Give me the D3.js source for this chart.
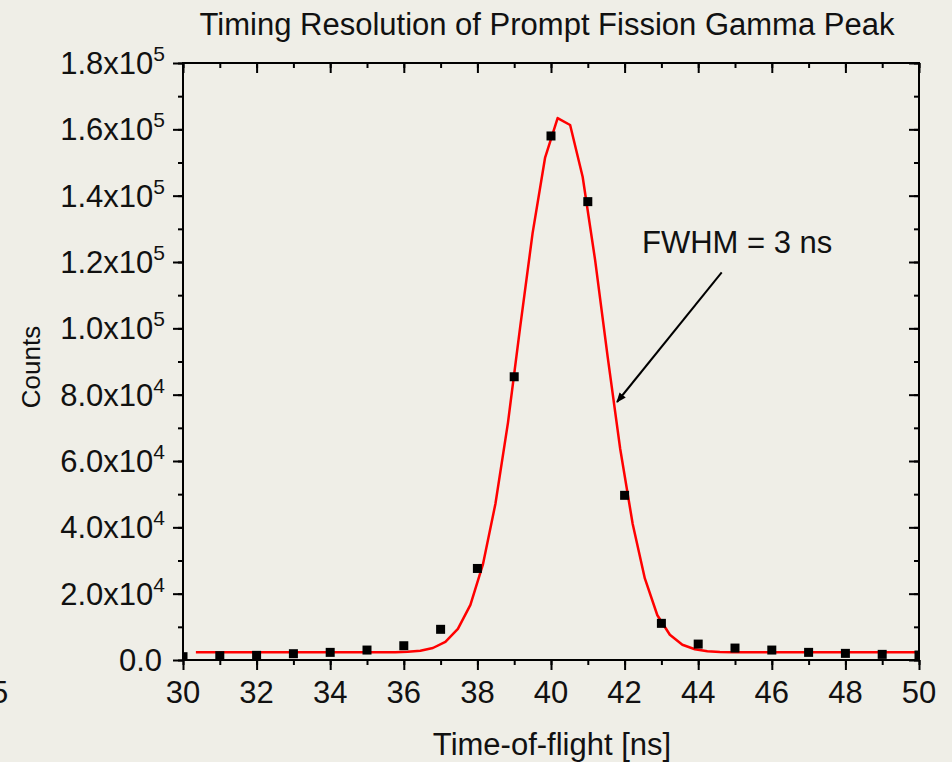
<!DOCTYPE html>
<html>
<head>
<meta charset="utf-8">
<script src="https://cdn.jsdelivr.net/npm/d3@7"></script>
<style>
  body { margin: 0; background: #efeee7; }
  svg text { font-family: "Liberation Sans", Arial, sans-serif; fill: #111; }
</style>
</head>
<body>
<svg id="chart" width="952" height="762"></svg>
<script>
// measured points (time-of-flight in ns, counts)
var tof = [30, 31, 32, 33, 34, 35, 36, 37, 38, 39, 40, 41, 42, 43, 44, 45, 46, 47, 48, 49, 50];
var counts = [1000, 1300, 1400, 1900, 2300, 3000, 4300, 9250, 27600, 85400, 158000, 138200,
              49650, 11050, 4800, 3600, 3000, 2300, 2000, 1700, 1500];

var fitX = [30.35, 30.69, 31.03, 31.37, 31.71, 32.05, 32.38, 32.72, 33.06, 33.40,
            33.74, 34.08, 34.42, 34.76, 35.10, 35.44, 35.77, 36.11, 36.45, 36.79,
            37.13, 37.47, 37.81, 38.15, 38.49, 38.83, 39.16, 39.50, 39.84, 40.18,
            40.52, 40.86, 41.20, 41.54, 41.88, 42.22, 42.55, 42.89, 43.23, 43.57,
            43.91, 44.25, 44.59, 44.93, 45.27, 45.61, 45.94, 46.28, 46.62, 46.96,
            47.30, 47.64, 47.98, 48.32, 48.66, 49.00, 49.33, 49.67, 50.01];
var fitY = [2300, 2300, 2300, 2300, 2300, 2300, 2300, 2300, 2300, 2300,
            2300, 2300, 2300, 2300, 2310, 2330, 2370, 2470, 2800, 3620,
            5500, 9380, 16600, 28800, 47100, 71500, 100200, 128700, 151500, 163400,
            161300, 145700, 120500, 91400, 63700, 41000, 24600, 13500, 7600, 4600,
            3250, 2650, 2420, 2340, 2310, 2300, 2300, 2300, 2300, 2300,
            2300, 2300, 2300, 2300, 2300, 2300, 2300, 2300, 2300];

var yTicks = [0, 20000, 40000, 60000, 80000, 100000, 120000, 140000, 160000, 180000];
var yMant = ["0.0", "2.0x10", "4.0x10", "6.0x10", "8.0x10", "1.0x10", "1.2x10", "1.4x10", "1.6x10", "1.8x10"];
var yExp = ["", "4", "4", "4", "4", "5", "5", "5", "5", "5"];
var xTicks = [30, 32, 34, 36, 38, 40, 42, 44, 46, 48, 50];

var pl = 183, pr = 919, pt = 63, pb = 660;
var fs = 31;

var svg = d3.select("#chart");

var x = d3.scaleLinear().domain([30, 50]).range([pl, pr]);
var y = d3.scaleLinear().domain([0, 180000]).range([pb, pt]);

svg.append("defs").append("clipPath").attr("id", "plotClip")
  .append("rect").attr("x", pl).attr("y", pt)
  .attr("width", pr - pl).attr("height", pb - pt);

var minorX = d3.range(30, 51, 1);
var minorY = d3.range(0, 180001, 10000);

function styleAxis(g) {
  g.select(".domain").remove();
  g.selectAll("line").attr("stroke", "#000").attr("stroke-width", 2);
}

function addAxis(axis, tx, ty) {
  svg.append("g").attr("transform", "translate(" + tx + "," + ty + ")")
    .call(axis).call(styleAxis);
}

// bottom and left: ticks outward; top and right: ticks inward
addAxis(d3.axisBottom(x).tickValues(minorX).tickSize(5).tickFormat(""), 0, pb);
addAxis(d3.axisBottom(x).tickValues(xTicks).tickSize(10).tickFormat(""), 0, pb);
addAxis(d3.axisBottom(x).tickValues(minorX).tickSize(5).tickFormat(""), 0, pt);
addAxis(d3.axisBottom(x).tickValues(xTicks).tickSize(10).tickFormat(""), 0, pt);
addAxis(d3.axisLeft(y).tickValues(minorY).tickSize(5).tickFormat(""), pl, 0);
addAxis(d3.axisLeft(y).tickValues(yTicks).tickSize(10).tickFormat(""), pl, 0);
addAxis(d3.axisLeft(y).tickValues(minorY).tickSize(5).tickFormat(""), pr, 0);
addAxis(d3.axisLeft(y).tickValues(yTicks).tickSize(10).tickFormat(""), pr, 0);

// data
var plot = svg.append("g").attr("clip-path", "url(#plotClip)");

var line = d3.line().x(function(d) { return x(d[0]); }).y(function(d) { return y(d[1]); });
plot.append("path")
  .datum(d3.zip(fitX, fitY))
  .attr("d", line)
  .attr("fill", "none")
  .attr("stroke", "#ff0000")
  .attr("stroke-width", 2.5)
  .attr("stroke-linejoin", "round");

plot.selectAll("rect.pt").data(d3.zip(tof, counts)).enter().append("rect")
  .attr("class", "pt")
  .attr("x", function(d) { return x(d[0]) - 4.5; })
  .attr("y", function(d) { return y(d[1]) - 4.5; })
  .attr("width", 9).attr("height", 9)
  .attr("fill", "#000");

// frame
svg.append("rect").attr("x", pl).attr("y", pt)
  .attr("width", pr - pl).attr("height", pb - pt)
  .attr("fill", "none").attr("stroke", "#000").attr("stroke-width", 2);

// tick labels
svg.selectAll("text.xl").data(xTicks).enter().append("text")
  .attr("class", "xl")
  .attr("x", function(d) { return x(d); })
  .attr("y", 703)
  .attr("text-anchor", "middle")
  .attr("font-size", fs)
  .text(function(d) { return d; });

var yl = svg.selectAll("text.yl").data(yTicks).enter().append("text")
  .attr("class", "yl")
  .attr("x", function(d, i) { return yExp[i] ? 165 : 162; })
  .attr("y", function(d) { return y(d) + 11; })
  .attr("text-anchor", "end")
  .attr("font-size", fs);
yl.append("tspan").text(function(d, i) { return yMant[i]; });
yl.append("tspan").attr("dy", -13).attr("font-size", 21).text(function(d, i) { return yExp[i]; });

// titles
svg.append("text").attr("x", 547).attr("y", 35).attr("text-anchor", "middle")
  .attr("font-size", fs).text("Timing Resolution of Prompt Fission Gamma Peak");
svg.append("text").attr("x", 552).attr("y", 755).attr("text-anchor", "middle")
  .attr("font-size", fs).text("Time-of-flight [ns]");
svg.append("text").attr("transform", "translate(40,367) rotate(-90)")
  .attr("text-anchor", "middle").attr("font-size", 26).text("Counts");

// stray label cut off at the left edge
svg.append("text").attr("x", -9).attr("y", 703).attr("font-size", fs).text("5");

// annotation
svg.append("defs").append("marker").attr("id", "arrow")
  .attr("viewBox", "0 0 10 10").attr("refX", 9).attr("refY", 5)
  .attr("markerWidth", 5).attr("markerHeight", 5).attr("orient", "auto")
  .append("path").attr("d", "M0,1 L10,5 L0,9 Z").attr("fill", "#000");

svg.append("text").attr("x", 642).attr("y", 253).attr("font-size", fs).text("FWHM = 3 ns");
svg.append("line")
  .attr("x1", 721.7).attr("y1", 272.3).attr("x2", 617).attr("y2", 402)
  .attr("stroke", "#000").attr("stroke-width", 2)
  .attr("marker-end", "url(#arrow)");
</script>
</body>
</html>
